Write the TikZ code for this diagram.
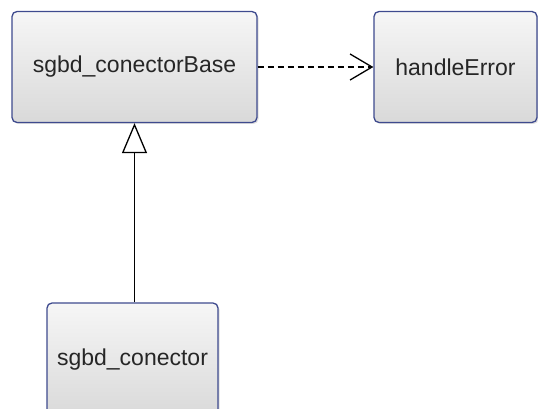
\documentclass[tikz,border=0pt]{standalone}
\usepackage{fontspec}
\setmainfont{Liberation Sans}
\usetikzlibrary{arrows.meta,shadows}
\definecolor{boxline}{HTML}{3E4A8E}
\definecolor{boxtop}{HTML}{F6F6F6}
\definecolor{boxbottom}{HTML}{D9D9D9}
\tikzset{
  classbox/.style={draw=boxline, line width=1.3pt, rounded corners=5pt,
    top color=boxtop, bottom color=boxbottom, inner sep=0pt,
    font=\fontsize{23}{26}\selectfont, text=black!85,
    drop shadow={shadow xshift=1.5pt, shadow yshift=-1.5pt, opacity=0.25}},
  depends/.style={line width=1.2pt, dash pattern=on 6pt off 4pt,
    -{Straight Barb[length=22pt, width=26pt, line width=1.3pt]}},
  inherits/.style={line width=1.2pt,
    -{Triangle[open, length=30pt, width=25pt, fill=white, line width=1.3pt]}}
}
\begin{document}
\begin{tikzpicture}[x=1pt, y=-1pt]
  \useasboundingbox (0,0) rectangle (538,409);
  % class boxes
  \node[classbox, minimum width=245pt, minimum height=111pt] (base) at (134.5,67) {sgbd\_conectorBase};
  \node[classbox, minimum width=163pt, minimum height=111pt] (err) at (455.5,67) {handleError};
  \node[classbox, minimum width=171pt, minimum height=114pt] (conn) at (132.5,360) {sgbd\_conector};
  % dependency
  \draw[depends] (base.east) -- (err.west);
  % generalization
  \draw[inherits] (base.south |- conn.north) -- (base.south);
\end{tikzpicture}
\end{document}
